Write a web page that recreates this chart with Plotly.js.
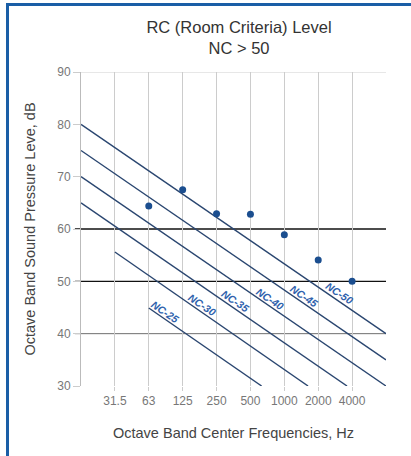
<!DOCTYPE html>
<html>
<head>
<meta charset="utf-8">
<script src="https://cdn.plot.ly/plotly-3.0.1.min.js"></script>
<style>
  html, body { margin: 0; padding: 0; background: #fff; }
  #wrap { position: relative; width: 411px; height: 456px; overflow: hidden; }
  #chart { position: absolute; left: 0; top: 0; width: 411px; height: 456px; }
  #frameTop { position: absolute; left: 6px; top: 3px; width: 405px; height: 3px; background: #1a5ea6; }
  #frameLeft { position: absolute; left: 6px; top: 3px; width: 3px; height: 453px; background: #1a5ea6; }
</style>
</head>
<body>
<div id="wrap">
  <div id="chart"></div>
  <div id="frameTop"></div>
  <div id="frameLeft"></div>
</div>
<script>
// Octave band centre frequencies (tick labels), positioned at slots 1..8
const freqLabels = ['31.5', '63', '125', '250', '500', '1000', '2000', '4000'];
// Measured sound pressure levels (dB) per band; no reading at 31.5 Hz
const measuredDb = [null, 64.4, 67.5, 62.9, 62.8, 58.9, 54.1, 50.0];

// NC curves: names and their end points (slot position, dB)
const ncNames  = ['NC-25', 'NC-30', 'NC-35', 'NC-40', 'NC-45', 'NC-50'];
const ncStartX = [2, 1, 0, 0, 0, 0];
const ncStartY = [44.9, 55.6, 65, 70, 75, 80];
const ncEndX   = [5.33, 6.7, 7.85, 9, 9, 9];
const ncEndY   = [30, 30, 30, 30, 35, 40];

// Reference horizontal levels and y tick values
const refLevels = [90, 60, 50, 40];
const yTicks = [30, 40, 50, 60, 70, 80, 90];

const slots = freqLabels.map((_, i) => i + 1);

const traces = [];
ncNames.forEach((n, i) => {
  traces.push({
    type: 'scatter', mode: 'lines', name: n,
    x: [ncStartX[i], ncEndX[i]], y: [ncStartY[i], ncEndY[i]],
    line: { color: '#2a4670', width: 1.4 },
    hoverinfo: 'skip', showlegend: false
  });
});
traces.push({
  type: 'scatter', mode: 'markers', name: 'Measured',
  x: slots, y: measuredDb,
  marker: { color: '#1b4e8f', size: 7 },
  showlegend: false
});

const refColors = ['#cfcfcf', '#111111', '#111111', '#6f6f6f'];
const refWidths = [1, 1.3, 1.1, 1];
const shapes = refLevels.map((lv, i) => ({
  type: 'line', xref: 'paper', yref: 'y',
  x0: -0.02, x1: 1, y0: lv, y1: lv,
  line: { color: refColors[i], width: refWidths[i] },
  layer: 'below'
}));

// Label positions along each curve
const labelAt = [2.41, 3.5, 4.47, 5.5, 6.5, 7.53];
const annotations = ncNames.map((n, i) => {
  const t = (labelAt[i] - ncStartX[i]) / (ncEndX[i] - ncStartX[i]);
  const yy = ncStartY[i] + t * (ncEndY[i] - ncStartY[i]);
  return {
    x: labelAt[i], y: yy, xref: 'x', yref: 'y',
    text: '<b><i>' + n + '</i></b>', showarrow: false,
    textangle: 34, xshift: 3, yshift: 6,
    font: { family: 'Liberation Sans, Arial, sans-serif', size: 10.5, color: '#2f62ad' }
  };
});

const layout = {
  width: 411, height: 456,
  margin: { l: 81, r: 25, t: 72, b: 70 },
  paper_bgcolor: '#ffffff', plot_bgcolor: '#ffffff',
  font: { family: 'Liberation Sans, Arial, sans-serif', color: '#444' },
  title: {
    text: 'RC (Room Criteria) Level<br>NC > 50',
    font: { size: 16.5, color: '#333' },
    xref: 'container', yref: 'container',
    x: 239 / 411, xanchor: 'center',
    y: 1 - 33 / 456, yanchor: 'middle'
  },
  xaxis: {
    range: [0, 9], tickmode: 'array', tickvals: slots, ticktext: freqLabels,
    showgrid: true, gridcolor: '#cccccc', gridwidth: 1,
    zeroline: false, showline: false,
    ticks: 'outside', ticklen: 4, tickcolor: '#cccccc',
    tickfont: { size: 12, color: '#777' },
    title: { text: 'Octave Band Center Frequencies, Hz', font: { size: 14.5, color: '#444' }, standoff: 20 }
  },
  yaxis: {
    range: [30, 90], tickmode: 'array', tickvals: yTicks,
    showgrid: false, zeroline: false,
    showline: true, linecolor: '#bbbbbb', linewidth: 1,
    ticks: 'outside', ticklen: 7, tickcolor: '#cccccc',
    tickfont: { size: 12, color: '#777' },
    title: { text: 'Octave Band Sound Pressure Leve, dB', font: { size: 14.5, color: '#444' }, standoff: 18 }
  },
  shapes: shapes,
  annotations: annotations,
  showlegend: false
};

Plotly.newPlot('chart', traces, layout, { displayModeBar: false, staticPlot: true });
</script>
</body>
</html>
